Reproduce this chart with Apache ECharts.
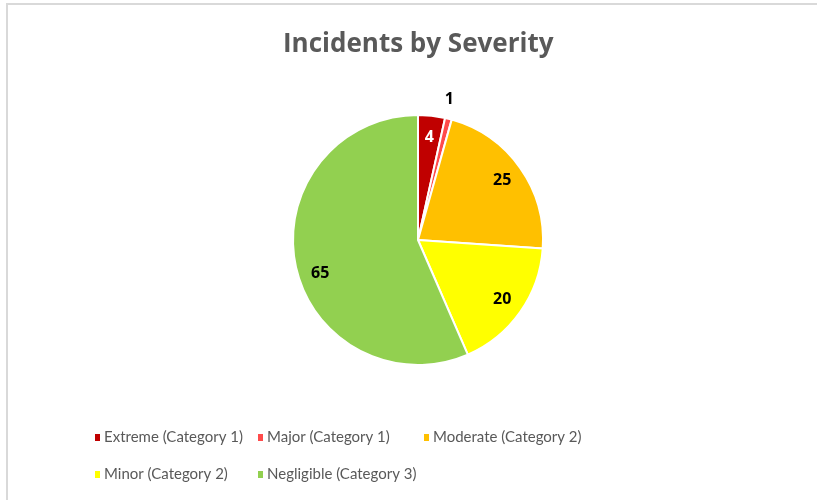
<!DOCTYPE html>
<html>
<head>
<meta charset="utf-8">
<script src="https://cdn.jsdelivr.net/npm/echarts@6/dist/echarts.min.js"></script>
<style>
  html, body { margin: 0; padding: 0; background: #ffffff; }
  #chart { width: 817px; height: 500px; }
</style>
</head>
<body>
<div id="chart"></div>
<script>
// Incident counts by severity level
const categories = [
  'Extreme (Category 1)',
  'Major (Category 1)',
  'Moderate (Category 2)',
  'Minor (Category 2)',
  'Negligible (Category 3)'
];
const counts = [4, 1, 25, 20, 65];
const colors = ['#C00000', '#FF4B4B', '#FFC000', '#FFFF00', '#92D050'];
const labelColors = ['#ffffff', '#000000', '#000000', '#000000', '#000000'];

const TITLE_FONT = '"Open Sans", Lato, sans-serif';
const LEGEND_FONT = 'Lato, "Open Sans", sans-serif';
const VALUE_FONT = '"Open Sans", Lato, sans-serif';

const chart = echarts.init(document.getElementById('chart'), null, { renderer: 'canvas' });

const valueLabel = (i, extra) => Object.assign({
  show: true,
  position: 'inside',
  formatter: '{c}',
  color: labelColors[i],
  fontFamily: VALUE_FONT,
  fontWeight: 'bold',
  fontSize: 16
}, extra || {});

// Visible slices
const sliceData = categories.map((name, i) => ({
  name,
  value: counts[i],
  itemStyle: { color: colors[i] }
}));

// Transparent ring placing the inside labels near the rim
const innerLabelData = categories.map((name, i) => ({
  name,
  value: counts[i],
  label: i === 1 ? { show: false }
       : valueLabel(i, i === 4 ? { offset: [3, 12] } : {})
}));

// Transparent ring placing the tiny slice's label just outside the pie
const outerLabelData = categories.map((name, i) => ({
  name,
  value: counts[i],
  label: i === 1 ? valueLabel(i, { offset: [-4, 0] }) : { show: false }
}));

const overlay = (radius, data) => ({
  type: 'pie',
  center: [418, 240],
  radius: [0, radius],
  startAngle: 90,
  clockwise: true,
  avoidLabelOverlap: false,
  silent: true,
  itemStyle: { color: 'rgba(0,0,0,0)', borderWidth: 0 },
  labelLine: { show: false },
  data
});

const legendCommon = {
  orient: 'vertical',
  itemWidth: 7,
  itemHeight: 9,
  itemGap: 22,
  icon: 'rect',
  selectedMode: false,
  textStyle: { color: '#595959', fontSize: 15, fontFamily: LEGEND_FONT, padding: [0, 0, 0, -2] },
  top: 425
};

chart.setOption({
  animation: false,
  title: {
    text: 'Incidents by Severity',
    left: 278,
    top: 27,
    textStyle: { color: '#595959', fontSize: 26, fontWeight: 'bold', fontFamily: TITLE_FONT }
  },
  legend: [
    Object.assign({}, legendCommon, { left: 88, data: [categories[0], categories[3]] }),
    Object.assign({}, legendCommon, { left: 251, data: [categories[1], categories[4]] }),
    Object.assign({}, legendCommon, { left: 417, data: [categories[2]] })
  ],
  graphic: [{
    type: 'polyline',
    silent: true,
    shape: { points: [[7, 500], [7, 4], [817, 4]] },
    style: { stroke: '#d9d9d9', lineWidth: 2, fill: null }
  }],
  series: [
    {
      type: 'pie',
      center: [418, 240],
      radius: [0, 125],
      startAngle: 90,
      clockwise: true,
      avoidLabelOverlap: false,
      silent: true,
      itemStyle: { borderColor: '#ffffff', borderWidth: 2 },
      label: { show: false },
      labelLine: { show: false },
      data: sliceData
    },
    overlay(200, innerLabelData),
    overlay(284, outerLabelData)
  ]
});
</script>
</body>
</html>
